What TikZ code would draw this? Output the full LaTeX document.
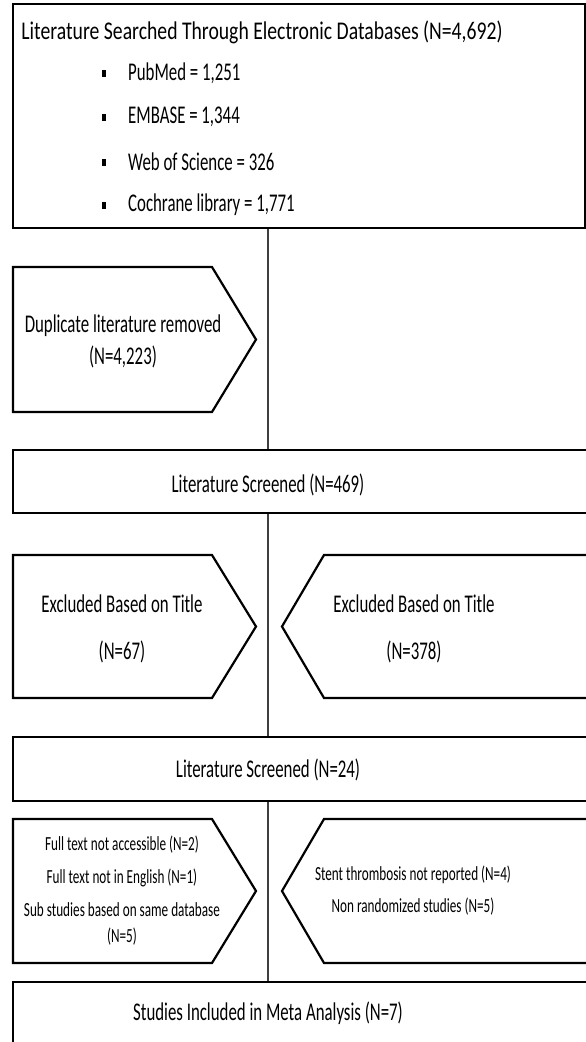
\documentclass[tikz,border=0pt]{standalone}
\usepackage{fontspec}
\setmainfont[FakeStretch=0.66]{Carlito}
\newfontfamily\titlefont[FakeStretch=0.772]{Carlito}
\newcommand\mainsz{\fontsize{25.5}{32}\selectfont}
\newcommand\titlesz{\titlefont\fontsize{25.5}{32}\selectfont}
\newcommand\smallsz{\fontsize{20}{26}\selectfont}
\tikzset{
  box/.style={draw=black, line width=2.2pt, fill=white, line join=miter},
  conn/.style={draw=black!75, line width=1.6pt},
  txt/.style={font=\mainsz, align=center, inner sep=0pt},
  ttxt/.style={font=\titlesz, align=center, inner sep=0pt},
  smalltxt/.style={font=\smallsz, align=center, inner sep=0pt},
  bul/.style={fill=black, inner sep=0pt, minimum width=3.4pt, minimum height=7pt},
}
\begin{document}
\begin{tikzpicture}[x=1pt,y=-1pt]
\useasboundingbox (0,0) rectangle (586,1042);
\clip (0,0) rectangle (586,1042);
\fill[white] (0,0) rectangle (586,1042);
% connector
\coordinate (ltop) at (268,228);
\coordinate (lbot) at (268,982);
\draw[conn] (ltop) -- (lbot);
% top box
\draw[box] (13,4) rectangle (585,228);
\node[ttxt] (title) at (262,32) {Literature Searched Through Electronic Databases (N=4,692)};
\node[bul] (bu1) at (104,73) {};
\node[bul] (bu2) at (104,117) {};
\node[bul] (bu3) at (104,162) {};
\node[bul] (bu4) at (104,205) {};
\node[txt, anchor=west] (db1) at (128,73) {PubMed = 1,251};
\node[txt, anchor=west] (db2) at (128,117) {EMBASE = 1,344};
\node[txt, anchor=west] (db3) at (128,162) {Web of Science = 326};
\node[txt, anchor=west] (db4) at (128,205) {Cochrane library = 1,771};
% duplicate pentagon
\draw[box] (13,267) -- (212,267) -- (256,339.5) -- (212,412) -- (13,412) -- cycle;
\node[txt] (dup) at (123,341) {Duplicate literature removed\\(N=4,223)};
% screened 469
\draw[box] (600,450) -- (13,450) -- (13,513) -- (600,513);
\node[txt] (scr1) at (268,485) {Literature Screened (N=469)};
% excluded pentagons
\draw[box] (13,555) -- (212,555) -- (256,626.5) -- (212,698) -- (13,698) -- cycle;
\node[txt] (exl) at (122,628.5) {Excluded Based on Title\\[15pt](N=67)};
\draw[box] (600,555) -- (324,555) -- (282,626.5) -- (324,698) -- (600,698);
\node[txt] (exr) at (414,628.5) {Excluded Based on Title\\[15pt](N=378)};
% screened 24
\draw[box] (600,737) -- (13,737) -- (13,801) -- (600,801);
\node[txt] (scr2) at (268,770) {Literature Screened (N=24)};
% lower pentagons
\draw[box] (13,819) -- (212,819) -- (256,891) -- (212,963) -- (13,963) -- cycle;
\node[smalltxt] (ftl) at (122,891) {Full text not accessible (N=2)\\[7pt]Full text not in English (N=1)\\[7pt]Sub studies based on same database\\(N=5)};
\draw[box] (600,819) -- (324,819) -- (282,891) -- (324,963) -- (600,963);
\node[smalltxt] (ftr) at (413,891) {Stent thrombosis not reported (N=4)\\[6pt]Non randomized studies (N=5)};
% final box
\draw[box] (600,982) -- (13,982) -- (13,1060);
\node[txt] (fin) at (268,1013) {Studies Included in Meta Analysis (N=7)};
\end{tikzpicture}
\end{document}
